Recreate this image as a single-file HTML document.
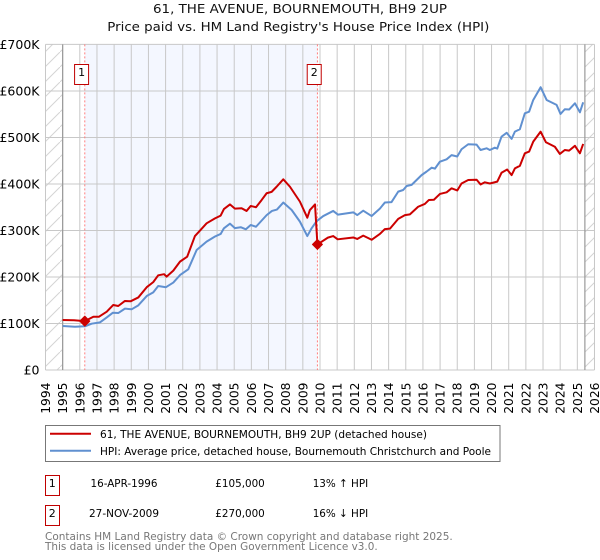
<!DOCTYPE html>
<html lang="en">
<head>
<meta charset="utf-8">
<title>61, THE AVENUE, BOURNEMOUTH, BH9 2UP</title>
<style>
html,body{margin:0;padding:0;background:#fff;}
svg{display:block;font-family:"DejaVu Sans","Liberation Sans",sans-serif;}
</style>
</head>
<body>
<svg id="chart" xmlns="http://www.w3.org/2000/svg" width="600" height="560" viewBox="0 0 600 560">
<defs>
<pattern id="hatch" width="15" height="15" patternUnits="userSpaceOnUse" patternTransform="translate(0 7)">
<line x1="0" y1="15" x2="15" y2="0" stroke="#d4d4d4" stroke-width="1"/>
</pattern>
</defs>
<rect x="0" y="0" width="600" height="560" fill="#ffffff"/>
<text x="300" y="13" font-size="12.4" text-anchor="middle" fill="#111" textLength="294" lengthAdjust="spacingAndGlyphs">61, THE AVENUE, BOURNEMOUTH, BH9 2UP</text>
<text x="298.3" y="31" font-size="12.4" text-anchor="middle" fill="#111" textLength="382" lengthAdjust="spacingAndGlyphs">Price paid vs. HM Land Registry's House Price Index (HPI)</text>
<g id="bands"></g>
<g id="grid"></g>
<g id="guides"></g>
<g id="series"></g>
<g id="sale-markers"></g>
<g id="tick-labels"></g>

<g>
<rect x="45.5" y="425.5" width="454.5" height="36" fill="#fff" stroke="#777" stroke-width="1"/>
<line x1="50" y1="433.8" x2="91" y2="433.8" stroke="#cc0000" stroke-width="2"/>
<text x="100" y="438" font-size="11" fill="#000" textLength="327" lengthAdjust="spacingAndGlyphs">61, THE AVENUE, BOURNEMOUTH, BH9 2UP (detached house)</text>
<line x1="50" y1="450.8" x2="91" y2="450.8" stroke="#6090d0" stroke-width="2"/>
<text x="100" y="455" font-size="11" fill="#000" textLength="391" lengthAdjust="spacingAndGlyphs">HPI: Average price, detached house, Bournemouth Christchurch and Poole</text>
</g>

<g>
<rect x="45.5" y="475.5" width="14" height="20" fill="#fff" stroke="#c00000" stroke-width="1"/>
<text x="52.2" y="487" font-size="11" text-anchor="middle" fill="#000">1</text>
<text x="124" y="487" font-size="11" text-anchor="middle" fill="#000" textLength="67" lengthAdjust="spacingAndGlyphs">16-APR-1996</text>
<text x="215.3" y="487" font-size="11" fill="#000" textLength="49.5" lengthAdjust="spacingAndGlyphs">£105,000</text>
<text x="312.7" y="487" font-size="11" fill="#000" textLength="55.5" lengthAdjust="spacingAndGlyphs">13% ↑ HPI</text>
<rect x="45.5" y="505.5" width="14" height="20" fill="#fff" stroke="#c00000" stroke-width="1"/>
<text x="52.2" y="517" font-size="11" text-anchor="middle" fill="#000">2</text>
<text x="124" y="517" font-size="11" text-anchor="middle" fill="#000" textLength="70" lengthAdjust="spacingAndGlyphs">27-NOV-2009</text>
<text x="215.3" y="517" font-size="11" fill="#000" textLength="49.5" lengthAdjust="spacingAndGlyphs">£270,000</text>
<text x="312.7" y="517" font-size="11" fill="#000" textLength="55.5" lengthAdjust="spacingAndGlyphs">16% ↓ HPI</text>
</g>

<text x="45" y="540" font-size="11" fill="#777" textLength="407.7" lengthAdjust="spacingAndGlyphs">Contains HM Land Registry data © Crown copyright and database right 2025.</text>
<text x="45" y="550" font-size="11" fill="#777" textLength="332.7" lengthAdjust="spacingAndGlyphs">This data is licensed under the Open Government Licence v3.0.</text>
</svg>

<script>
const yearTicks = [1994,1995,1996,1997,1998,1999,2000,2001,2002,2003,2004,2005,2006,2007,2008,2009,2010,2011,2012,2013,2014,2015,2016,2017,2018,2019,2020,2021,2022,2023,2024,2025,2026];
const valueTicks = [0,100,200,300,400,500,600,700];
const valueTickLabels = ['£0','£100K','£200K','£300K','£400K','£500K','£600K','£700K'];

const hpiYears = [1995,1995.72,1996.3,1996.69,1997.18,1997.57,1997.92,1998.24,1998.63,1999.02,1999.41,1999.9,2000.28,2000.57,2001.02,2001.45,2001.84,2002.32,2002.81,2003.39,2003.88,2004.21,2004.4,2004.75,2005.04,2005.38,2005.68,2005.96,2006.27,2006.89,2007.2,2007.49,2007.86,2008.35,2008.83,2009.26,2009.51,2009.8,2010.19,2010.77,2011.05,2011.94,2012.17,2012.52,2013.01,2013.49,2013.78,2014.17,2014.56,2014.85,2015.05,2015.34,2015.92,2016.21,2016.51,2016.7,2016.99,2017.38,2017.67,2018,2018.25,2018.64,2019.13,2019.36,2019.71,2019.9,2020.19,2020.33,2020.58,2020.88,2021.17,2021.36,2021.65,2021.94,2022.19,2022.43,2022.86,2023.21,2023.79,2024.02,2024.27,2024.52,2024.86,2025.15,2025.34];
const hpiValues = [94.6,93,94,99.6,102.5,113,123,122.5,132,130.5,139,159,167,180.6,178,188,204,216.5,258,276,287,292.5,304.7,314.6,305,307,302.6,311.8,308,333,342,345,360,344,319,288,304.7,320,331,342,334,339,333,342.5,331,347,360,361,383.5,387,395.7,398,419,426.5,435,433,448,453,462,459,474.6,485.4,484.5,473,476.7,473,478,476,501.7,510,497,512.5,517.6,552,555.5,580.6,608,580.6,570,550.5,560.6,560,573.5,554,575.6];

const paidYears = [1995,1995.66,1996.29,1996.79,1997.12,1997.57,1997.95,1998.24,1998.63,1998.96,1999.41,1999.9,2000.28,2000.57,2000.91,2001.06,2001.45,2001.84,2002.26,2002.71,2003,2003.39,2003.88,2004.21,2004.4,2004.75,2005.04,2005.43,2005.72,2005.96,2006.27,2006.6,2006.89,2007.18,2007.47,2007.86,2008.25,2008.83,2009.26,2009.41,2009.71,2009.85,2010.46,2010.77,2011.03,2011.94,2012.17,2012.52,2013.01,2013.49,2013.78,2014.08,2014.56,2014.95,2015.24,2015.72,2016.11,2016.35,2016.64,2016.99,2017.38,2017.67,2018,2018.25,2018.64,2019.13,2019.36,2019.61,2019.9,2020.33,2020.58,2020.91,2021.17,2021.36,2021.65,2021.94,2022.19,2022.43,2022.86,2023.17,2023.69,2023.98,2024.27,2024.52,2024.86,2025.15,2025.34];
const paidValues = [107.5,107,105,114.6,114.6,125.4,139.8,137.6,148.4,147.7,156,178,189,203.6,206,200.7,213.6,233,243.7,288,299.6,315.4,326,332,346,356,347,347.7,342,352.7,350,365.6,380,383,394,410,394,362,327.5,344,356,270,284.6,288,281,285,281.7,289,280,292.5,303,304,325,333,334.6,351,357,365.6,366,378.5,382,390.6,386,401,408.6,409,399,403.6,401,405,424,431,419,433.5,439,466,469.6,491,512.5,489.6,480,464.5,473,471.6,482,466,486];

const saleYears = [1996.29,2009.85];
const saleValues = [105,270];
const saleLabels = ['1','2'];
const dataStartYear = 1995;
const dataEndYear = 2025.44;

const NS = 'http://www.w3.org/2000/svg';
function xScale(year){ return 45.5 + (year - 1994) * 17.156; }
function yScale(value){ return 370 - value * 0.4651; }
function make(tag, attrs, parent){
  const el = document.createElementNS(NS, tag);
  for (const k in attrs) el.setAttribute(k, attrs[k]);
  parent.appendChild(el);
  return el;
}
function linePath(xs, ys){
  return xs.map((x, i) => (i ? 'L' : 'M') + xScale(x).toFixed(2) + ' ' + yScale(ys[i]).toFixed(2)).join(' ');
}

const plotTop = yScale(700), plotBottom = yScale(0), plotLeft = xScale(1994), plotRight = xScale(2026);
const bands = document.getElementById('bands');
const grid = document.getElementById('grid');
const guides = document.getElementById('guides');
const series = document.getElementById('series');
const markers = document.getElementById('sale-markers');
const labels = document.getElementById('tick-labels');

const hatchLeft = make('rect', {x: plotLeft, y: plotTop, width: xScale(dataStartYear) - plotLeft, height: plotBottom - plotTop, fill: 'url(#hatch)'}, bands);


const hatchRight = make('rect', {x: xScale(dataEndYear), y: plotTop, width: plotRight - xScale(dataEndYear), height: plotBottom - plotTop, fill: 'url(#hatch)'}, bands);


const ownership = make('rect', {x: xScale(saleYears[0]), y: plotTop, width: xScale(saleYears[1]) - xScale(saleYears[0]), height: plotBottom - plotTop, fill: '#f4f7ff'}, bands);



yearTicks.forEach((year) => {
  const line = make('line', {x1: xScale(year), x2: xScale(year), y1: plotTop, y2: plotBottom, stroke: '#c8c8c8', 'stroke-width': 1}, grid);
  
  
  const x = xScale(year) + 4.5;
  const label = make('text', {x: x, y: 382.5, 'font-size': 12.3, fill: '#000', 'text-anchor': 'end', transform: 'rotate(-90 ' + x + ' 382.5)'}, labels);
  
  
  label.textContent = String(year);
});
valueTicks.forEach((value, i) => {
  const line = make('line', {x1: plotLeft, x2: plotRight, y1: yScale(value), y2: yScale(value), stroke: '#c8c8c8', 'stroke-width': 1}, grid);
  
  
  const label = make('text', {x: 39.5, y: yScale(value) + 4.5, 'font-size': 12.5, fill: '#000', 'text-anchor': 'end'}, labels);
  
  
  label.textContent = valueTickLabels[i];
});

const startEdge = make('line', {x1: xScale(dataStartYear), x2: xScale(dataStartYear), y1: plotTop, y2: plotBottom, stroke: '#999', 'stroke-width': 1.2}, grid);


const endEdge = make('line', {x1: xScale(dataEndYear), x2: xScale(dataEndYear), y1: plotTop, y2: plotBottom, stroke: '#999', 'stroke-width': 1.2}, grid);



saleYears.forEach((year) => {
  const guide = make('line', {x1: xScale(year), x2: xScale(year), y1: plotTop, y2: plotBottom, stroke: '#ff7f7f', 'stroke-width': 1, 'stroke-dasharray': '2 2'}, guides);
  
  
});

const hpiLine = make('path', {d: linePath(hpiYears, hpiValues), fill: 'none', stroke: '#6090d0', 'stroke-width': 2, 'stroke-linejoin': 'round'}, series);


const paidLine = make('path', {d: linePath(paidYears, paidValues), fill: 'none', stroke: '#cc0000', 'stroke-width': 2, 'stroke-linejoin': 'round'}, series);



saleYears.forEach((year, i) => {
  const cx = xScale(year), cy = yScale(saleValues[i]);
  const dot = make('path', {d: 'M' + cx + ' ' + (cy - 5) + ' L' + (cx + 5) + ' ' + cy + ' L' + cx + ' ' + (cy + 5) + ' L' + (cx - 5) + ' ' + cy + ' Z', fill: '#cc0000', stroke: '#cc0000', 'stroke-width': 1, 'stroke-linejoin': 'round'}, markers);
  
  
  const box = make('rect', {x: cx - 10.2, y: 64.5, width: 14, height: 20, fill: '#fff', stroke: '#c00000', 'stroke-width': 1}, markers);
  
  
  const txt = make('text', {x: cx - 3.2, y: 76, 'font-size': 11, fill: '#000', 'text-anchor': 'middle'}, markers);
  
  
  txt.textContent = saleLabels[i];
});
</script>
</body>
</html>
